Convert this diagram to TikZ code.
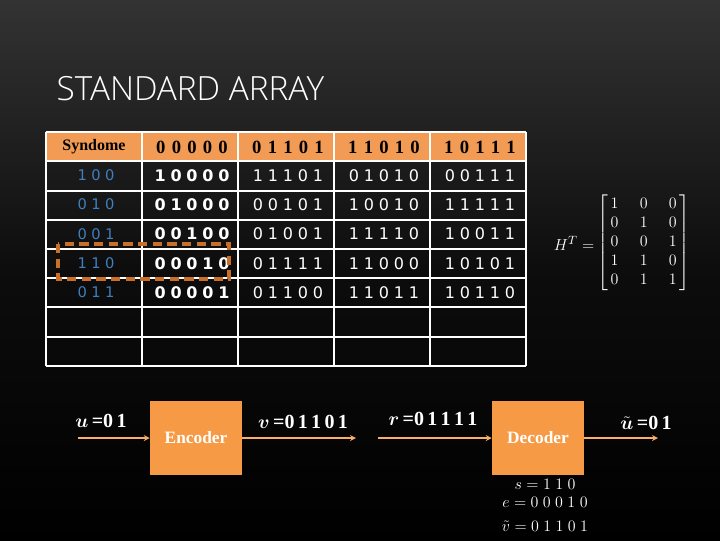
\documentclass[tikz,border=0pt]{standalone}
\usepackage{amsmath}
\usepackage{fontspec}
\newfontfamily\titlefont{Open Sans Light}
\newfontfamily\cellfont{DejaVu Sans}
\setmainfont{Liberation Serif}
\definecolor{org}{HTML}{F79A45}
\definecolor{hdr}{HTML}{F29B55}
\definecolor{bl}{HTML}{3F7FC0}
\definecolor{dashcol}{HTML}{C8702A}
\newcommand\spc[1]{\expandafter\myspaced#1\relax}
\def\myspaced#1#2{#1\ifx#2\relax\else\hskip0.3em\expandafter\myspaced\expandafter#2\fi}
\begin{document}
\begin{tikzpicture}[x=0.75pt,y=-0.75pt,
  cell/.style={font=\cellfont\fontsize{12}{14}\selectfont, text=white},
  hcell/.style={font=\bfseries\fontsize{14}{16}\selectfont, text=black},
  blk/.style={fill=org, minimum width=69pt, minimum height=55pt, inner sep=0pt, font=\bfseries\fontsize{13}{15}\selectfont, text=white},
  arr/.style={draw=org!80!white, line width=1pt, -stealth},
  lab/.style={text=white, font=\bfseries\fontsize{15}{17}\selectfont},
  eq/.style={text=white, font=\fontsize{13}{15}\selectfont, inner sep=0.5pt}]
\shade[top color=black!80, bottom color=black, middle color=black!95] (0,0) rectangle (720,540);
\useasboundingbox (0,0) rectangle (720,540);
\node[anchor=west, text=white, font=\titlefont\fontsize{25}{30}\selectfont] (title) at (52,89) {STANDARD ARRAY};
% table
\fill[hdr] (46,132) rectangle (526,161);
\foreach \x in {46,142,238,334,430,526} \draw[white, line width=1.5pt] (\x,132) -- (\x,366);
\foreach \y in {132,161,191,220,249,278,307,337,366} \draw[white, line width=1.5pt] (46,\y) -- (526,\y);
\node[hcell, font=\bfseries\fontsize{12}{14}\selectfont] (h0) at (94,147) {Syndome};
\node[hcell] (h1) at (192,147) {0\,\,0\,\,0\,\,0\,\,0};
\node[hcell] (h2) at (288,147) {0\,\,1\,\,1\,\,0\,\,1};
\node[hcell] (h3) at (384,147) {1\,\,1\,\,0\,\,1\,\,0};
\node[hcell] (h4) at (480,147) {1\,\,0\,\,1\,\,1\,\,1};
\foreach \s/\a/\b/\c/\d [count=\i] in {100/10000/11101/01010/00111, 010/01000/00101/10010/11111, 001/00100/01001/11110/10011, 110/00010/01111/11000/10101, 011/00001/01100/11011/10110}{
  \pgfmathsetmacro\yy{146+29.3*\i}
  \node[cell, text=bl, font=\cellfont\fontsize{11}{13}\selectfont] (s\i) at (96,\yy) {\spc{\s}};
  \node[cell, font=\cellfont\bfseries\fontsize{12}{14}\selectfont] (a\i) at (192,\yy) {\spc{\a}};
  \node[cell] (b\i) at (288,\yy) {\spc{\b}};
  \node[cell] (c\i) at (384,\yy) {\spc{\c}};
  \node[cell] (d\i) at (480,\yy) {\spc{\d}};
}
\draw[dashcol, line width=2.5pt, dash pattern=on 7pt off 4pt] (58,244) rectangle (229,279);
% matrix
\node[text=white, font=\fontsize{13}{15}\selectfont, anchor=east, inner sep=1pt] (Hl) at (596,243) {$H^T=$};
\node[text=white, font=\fontsize{13}{15}\selectfont, anchor=west, inner sep=0pt] (H) at (597,243) {$\setlength\arraycolsep{8pt}\renewcommand\arraystretch{0.95}\left[\begin{array}{@{\,}ccc@{\,}}1&0&0\\0&1&0\\0&0&1\\1&1&0\\0&1&1\end{array}\right]$};
% blocks
\node[blk] (enc) at (196,438) {Encoder};
\node[blk] (dec) at (538,438) {Decoder};
\coordinate (u0) at (78,438);
\coordinate (v1) at (356,438);
\coordinate (r0) at (378,438);
\coordinate (u1) at (658,438);
\draw[arr] (u0) -- (enc);
\draw[arr] (enc) -- (v1);
\draw[arr] (r0) -- (dec);
\draw[arr] (dec) -- (u1);
\node[lab] (ul) at (101,421) {$\boldsymbol{u}$\,=0\,1};
\node[lab] (vl) at (303,422) {$\boldsymbol{v}$\,=0\,1\,1\,0\,1};
\node[lab] (rl) at (433,419) {$\boldsymbol{r}$\,=0\,1\,1\,1\,1};
\node[lab] (uh) at (646,423) {$\tilde{\boldsymbol{u}}$\,=0\,1};
\node[eq] (sl) at (545,484) {$s=1\;1\;0$};
\node[eq] (el) at (545,502) {$e=0\;0\;0\;1\;0$};
\node[eq] (vt) at (545,526) {$\tilde{v}=0\;1\;1\;0\;1$};
\end{tikzpicture}
\end{document}
